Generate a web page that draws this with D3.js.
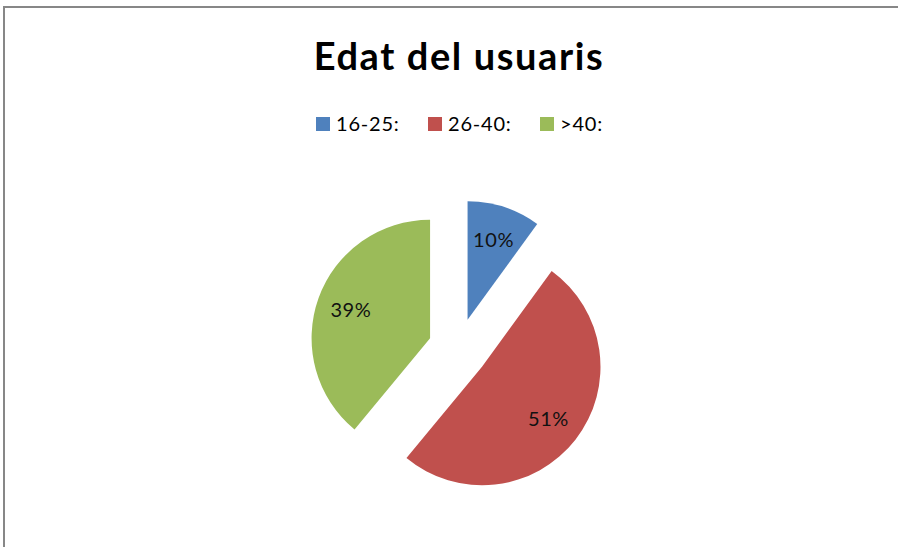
<!DOCTYPE html>
<html>
<head>
<meta charset="utf-8">
<script src="https://cdn.jsdelivr.net/npm/d3@7"></script>
<style>
  html, body { margin: 0; padding: 0; background: #fff; }
  svg { display: block; font-family: Lato, "Open Sans", sans-serif; }
</style>
</head>
<body>
<div id="chart"></div>
<script>
// ---- data ----
const categories = ['16-25:', '26-40:', '>40:'];
const values     = [10, 51, 39];
const pctLabels  = ['10%', '51%', '39%'];
const colors     = ['#4F81BD', '#C0504D', '#9BBB59'];
const title      = 'Edat del usuaris';

const width = 898, height = 547;
const svg = d3.select('#chart').append('svg')
  .attr('width', width)
  .attr('height', height);

// frame (only top + left edges are visible in the crop)
svg.append('path')
  .attr('d', `M4,${height} V7 H${width}`)
  .attr('fill', 'none')
  .attr('stroke', '#878787')
  .attr('stroke-width', 2);

svg.append('text')
  .attr('x', 459)
  .attr('y', 70)
  .attr('text-anchor', 'middle')
  .attr('font-size', '38px')
  .attr('font-weight', 'bold')
  .attr('letter-spacing', '1.6px')
  .attr('fill', '#000')
  .text(title);

// ---- legend ----
const legend = svg.append('g').attr('class', 'legend');
const legX = d3.scalePoint().domain(categories).range([316, 540]);
const item = legend.selectAll('g.leg')
  .data(categories)
  .join('g')
  .attr('class', 'leg')
  .attr('transform', d => `translate(${legX(d)},117)`);
item.append('rect')
  .attr('width', 14).attr('height', 14)
  .attr('fill', (d, i) => colors[i]);
item.append('text')
  .attr('x', 20).attr('y', 14)
  .attr('font-size', '20px')
  .attr('letter-spacing', '0.8px')
  .attr('fill', '#000')
  .text(d => d);

// ---- exploded pie ----
const cx = 458.3, cy = 348.4, r = 118.5, explode = 30;
const pie = d3.pie().sort(null).value(d => d)(values);
const arc = d3.arc().innerRadius(0).outerRadius(r);
const labelArc = d3.arc().innerRadius(r * 0.71).outerRadius(r * 0.71);

const off = d => {
  const a = (d.startAngle + d.endAngle) / 2;
  return [Math.sin(a) * explode, -Math.cos(a) * explode];
};

const slices = svg.append('g')
  .attr('transform', `translate(${cx},${cy})`)
  .selectAll('g.slice')
  .data(pie)
  .join('g')
  .attr('class', 'slice')
  .attr('transform', d => `translate(${off(d)})`);

slices.append('path')
  .attr('d', arc)
  .attr('fill', (d, i) => colors[i]);

slices.append('text')
  .attr('transform', d => `translate(${labelArc.centroid(d)})`)
  .attr('text-anchor', 'middle')
  .attr('dy', '0.36em')
  .attr('font-size', '20px')
  .attr('letter-spacing', '0.6px')
  .attr('fill', '#111')
  .text((d, i) => pctLabels[i]);
</script>
</body>
</html>
